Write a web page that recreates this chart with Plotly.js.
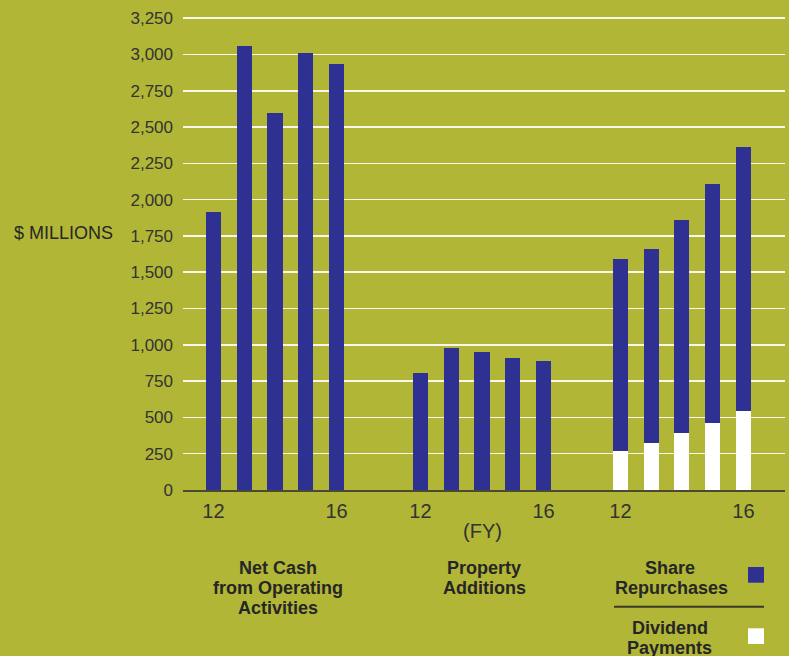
<!DOCTYPE html>
<html>
<head>
<meta charset="utf-8">
<script src="https://cdn.plot.ly/plotly-3.0.1.min.js"></script>
<style>html,body{margin:0;padding:0;background:#b1b636;}#chart{width:789px;height:656px;}</style>
</head>
<body>
<div id="chart"></div>
<script>
// ---- data (FY12–FY16, $ millions) ----
const years = ['12', '13', '14', '15', '16'];
const netCashFromOperations = [1914, 3060, 2597, 3010, 2934];
const propertyAdditions = [803, 976, 948, 907, 886];
const dividendPayments = [272, 321, 390, 459, 541];
const shareRepurchases = [1318, 1338, 1469, 1648, 1821];
const yTickValues = [0, 250, 500, 750, 1000, 1250, 1500, 1750, 2000, 2250, 2500, 2750, 3000, 3250];

// ---- layout constants ----
const BG = '#b1b636';
const BLUE = '#2e3192';
const TEXT = '#262626';
const FONT = 'Liberation Sans, Arial, Helvetica, sans-serif';
const W = 789, H = 656;
const M = {l: 183, r: 4, t: 16, b: 166};
const groupStart = [0, 6.73, 13.23];
const barWidth = 0.49;

const xs = g => years.map((_, i) => groupStart[g] + i);
const px = p => (p - M.l) / (W - M.l - M.r);
const py = p => (H - M.b - p) / (H - M.t - M.b);

const traces = [
  {type: 'bar', x: xs(0), y: netCashFromOperations, width: barWidth, marker: {color: BLUE}, name: 'Net Cash from Operating Activities', hoverinfo: 'none'},
  {type: 'bar', x: xs(1), y: propertyAdditions, width: barWidth, marker: {color: BLUE}, name: 'Property Additions', hoverinfo: 'none'},
  {type: 'bar', x: xs(2), y: dividendPayments, width: barWidth, marker: {color: '#ffffff'}, name: 'Dividend Payments', hoverinfo: 'none'},
  {type: 'bar', x: xs(2), y: shareRepurchases, width: barWidth, marker: {color: BLUE}, name: 'Share Repurchases', hoverinfo: 'none'}
];

const tickvals = [], ticktext = [];
[0, 1, 2].forEach(g => {
  tickvals.push(groupStart[g], groupStart[g] + years.length - 1);
  ticktext.push(years[0], years[years.length - 1]);
});

function label(text, xPix, yPix, opts) {
  return Object.assign({
    text: text, xref: 'paper', yref: 'paper', x: px(xPix), y: py(yPix),
    xanchor: 'center', yanchor: 'middle', showarrow: false,
    font: {family: FONT, size: 18, color: TEXT, weight: 'bold'}
  }, opts || {});
}

const annotations = [
  label('$ MILLIONS', 115, 233, {xanchor: 'right', font: {family: FONT, size: 18, color: TEXT}}),
  label('(FY)', 482.7, 531, {font: {family: FONT, size: 20, color: '#333333'}}),
  label('Net Cash', 277.5, 568.3),
  label('from Operating', 277.5, 587.7),
  label('Activities', 277.5, 607.7),
  label('Property', 484, 568.3),
  label('Additions', 484, 587.7),
  label('Share', 670, 568.3),
  label('Repurchases', 671, 587.7),
  label('Dividend', 669.5, 628.3),
  label('Payments', 669.5, 648)
];

const shapes = [
  {type: 'rect', xref: 'paper', yref: 'paper', x0: px(748), x1: px(764), y0: py(567), y1: py(582.7), fillcolor: BLUE, line: {width: 0}},
  {type: 'rect', xref: 'paper', yref: 'paper', x0: px(748), x1: px(764), y0: py(628.3), y1: py(644), fillcolor: '#ffffff', line: {width: 0}},
  {type: 'line', xref: 'paper', yref: 'paper', x0: px(614), x1: px(764), y0: py(606.7), y1: py(606.7), line: {color: '#3a3a28', width: 2}}
];

const layout = {
  width: W, height: H,
  margin: M,
  paper_bgcolor: BG, plot_bgcolor: BG,
  barmode: 'stack',
  showlegend: false,
  font: {family: FONT, color: '#333333'},
  xaxis: {
    range: [-0.99, 18.58], showgrid: false, zeroline: false,
    showline: true, linecolor: '#4a4a30', linewidth: 2,
    tickmode: 'array', tickvals: tickvals, ticktext: ticktext, ticks: '',
    tickfont: {family: FONT, size: 20, color: '#333333'}, ticklabelstandoff: 2,
    fixedrange: true
  },
  yaxis: {
    range: [0, 3265], tickmode: 'array', tickvals: yTickValues,
    tickformat: ',d', ticks: '', showgrid: true,
    gridcolor: 'rgba(255,255,255,0.9)', gridwidth: 1.5, zeroline: false,
    tickfont: {family: FONT, size: 17, color: '#333333'}, ticklabelstandoff: 9,
    fixedrange: true
  },
  annotations: annotations,
  shapes: shapes
};

Plotly.newPlot('chart', traces, layout, {displayModeBar: false, staticPlot: true});
</script>
</body>
</html>
